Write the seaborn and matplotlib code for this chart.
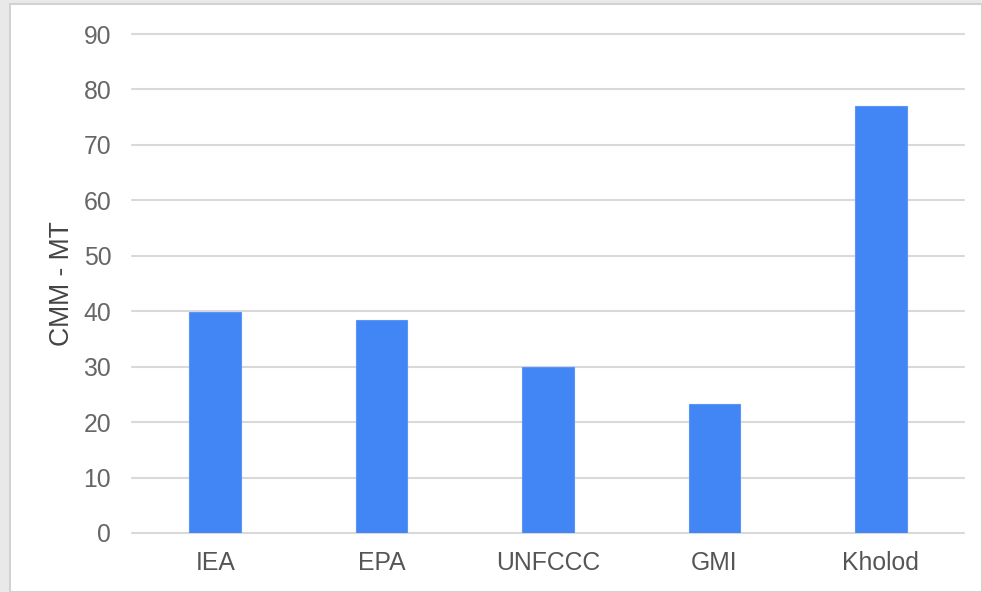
import matplotlib
matplotlib.use("Agg")
import matplotlib.pyplot as plt
import seaborn as sns
import pandas as pd
from matplotlib.patches import Rectangle

# values
sources = ["IEA", "EPA", "UNFCCC", "GMI", "Kholod"]
cmm_mt = [39.8, 38.5, 30.0, 23.3, 77.0]
y_ticks = [0, 10, 20, 30, 40, 50, 60, 70, 80, 90]

df = pd.DataFrame({"source": sources, "cmm": cmm_mt})

sns.set_theme(style="white")
plt.rcParams["font.family"] = ["Liberation Sans", "DejaVu Sans"]

fig = plt.figure(figsize=(9.82, 5.92), dpi=100, facecolor="#e9e9e9")

# white card behind the chart
W, H = 982, 592
fig.patches.append(Rectangle((10 / W, 0), 1 - 10 / W, 1 - 4 / H, transform=fig.transFigure,
                             facecolor="white", edgecolor="#d2d2d2", linewidth=1.5, zorder=-1))

ax = fig.add_axes([132 / W, 1 - 533 / H, (964 - 132) / W, (533 - 34) / H])
ax.set_zorder(2)
ax.set_facecolor("none")

sns.barplot(data=df, x="source", y="cmm", color="#4285F4", saturation=1, width=0.31,
            edgecolor="#5b95f5", linewidth=0.8, ax=ax, zorder=3)

ax.set_ylim(0, 90)
ax.set_xlim(-0.5, 4.5)
ax.set_yticks(y_ticks)
ax.yaxis.grid(True, color="#d9d9d9", linewidth=1.5, clip_on=False)
ax.set_axisbelow(True)
for s in ax.spines.values():
    s.set_visible(False)

ax.tick_params(axis="y", length=0, pad=15, labelsize=17.8, labelcolor="#666666")
ax.tick_params(axis="x", length=0, pad=13, labelsize=17.8, labelcolor="#555555")
ax.set_xlabel("")
ax.set_ylabel("CMM - MT", fontsize=19.2, color="#444444", labelpad=6)

fig.savefig("out.png", dpi=100, facecolor=fig.get_facecolor())
